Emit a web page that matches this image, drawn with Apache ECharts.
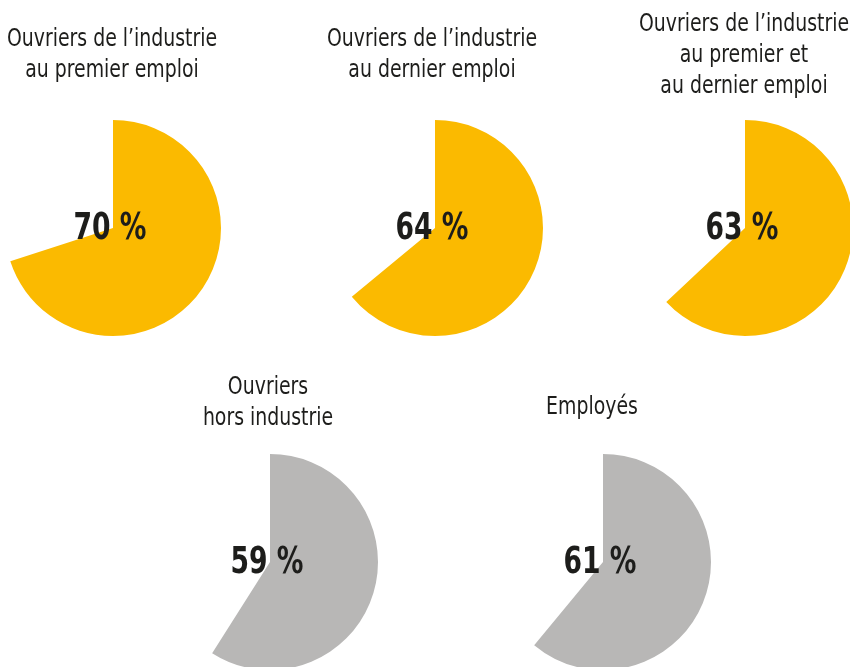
<!DOCTYPE html>
<html>
<head>
<meta charset="utf-8">
<script src="https://cdn.jsdelivr.net/npm/echarts@6/dist/echarts.min.js"></script>
<style>
  html, body { margin: 0; padding: 0; background: #fff; }
  #chart { width: 850px; height: 667px; }
</style>
</head>
<body>
<div id="chart"></div>
<script>
// categories and shares (%)
const categories = [
  'Ouvriers de l’industrie\nau premier emploi',
  'Ouvriers de l’industrie\nau dernier emploi',
  'Ouvriers de l’industrie\nau premier et\nau dernier emploi',
  'Ouvriers\nhors industrie',
  'Employés'
];
const shares = [70, 64, 63, 59, 61];

// layout of each pie (px), kept apart from the data
const centers = [[113, 228], [435, 228], [745, 228], [270, 562], [603, 562]];
const titlePos = [[112, 24], [432, 24], [744, 9], [268, 372], [592, 392]];
const fills = ['#FBBA00', '#FBBA00', '#FBBA00', '#B8B7B6', '#B8B7B6'];

const FONT = '"DejaVu Sans Condensed", "Liberation Sans Narrow", sans-serif';
const INK = '#1d1d1b';

const chart = echarts.init(document.getElementById('chart'), null, { renderer: 'canvas' });

// the reference type is a narrow grotesque: squeeze the text horizontally
const graphics = [];
categories.forEach((name, i) => {
  graphics.push({
    type: 'text',
    x: titlePos[i][0],
    y: titlePos[i][1],
    scaleX: 0.84,
    silent: true,
    style: {
      text: name,
      fill: INK,
      font: '25px ' + FONT,
      align: 'center',
      verticalAlign: 'top',
      lineHeight: 31
    }
  });
});
shares.forEach((v, i) => {
  graphics.push({
    type: 'text',
    x: centers[i][0] - 3,
    y: centers[i][1] + 1,
    scaleX: 0.8,
    silent: true,
    z: 10,
    style: {
      text: v + ' %',
      fill: INK,
      font: 'bold 37px ' + FONT,
      align: 'center',
      verticalAlign: 'middle'
    }
  });
});

const series = shares.map((v, i) => ({
  type: 'pie',
  center: centers[i],
  radius: [0, 108],
  startAngle: 90,
  clockwise: true,
  silent: true,
  animation: false,
  label: { show: false },
  labelLine: { show: false },
  data: [
    { value: v, name: categories[i], itemStyle: { color: fills[i] } },
    { value: 100 - v, name: 'reste', itemStyle: { color: 'rgba(0,0,0,0)' } }
  ]
}));

chart.setOption({
  backgroundColor: '#ffffff',
  tooltip: { show: false },
  graphic: graphics,
  series: series
});
</script>
</body>
</html>
